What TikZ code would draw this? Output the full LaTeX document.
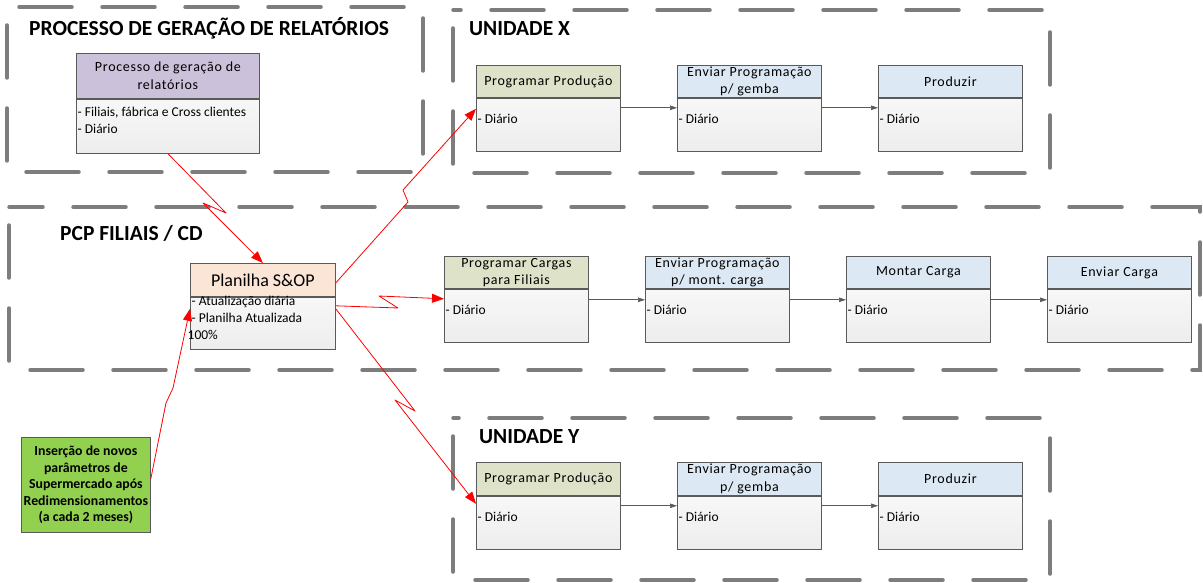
\documentclass[tikz,border=0pt]{standalone}
\usepackage{fontspec}
\setmainfont{Carlito}
\usepackage{tikz}
\usetikzlibrary{arrows.meta,positioning}
\definecolor{Moldura}{RGB}{125,125,125}
\definecolor{Borda}{RGB}{90,90,90}
\definecolor{Lilas}{RGB}{204,193,218}
\definecolor{Oliva}{RGB}{221,226,200}
\definecolor{AzulClaro}{RGB}{220,232,243}
\definecolor{Pessego}{RGB}{251,229,214}
\definecolor{VerdeCx}{RGB}{146,208,80}
\definecolor{Raio}{RGB}{255,0,0}

\begin{document}
\begin{tikzpicture}[x=1pt,y=-1pt,
  moldura/.style={draw=Moldura,line width=3.5pt,line cap=round,
                  dash pattern=on 53pt off 30pt,dash phase=65pt},
  titulo/.style={anchor=west,inner sep=0pt,font=\fontsize{21.5}{25}\selectfont\bfseries},
  cab/.style={draw=Borda,line width=0.8pt,anchor=north west,minimum width=144pt,
              minimum height=32pt,inner sep=0pt,align=center,
              font=\fontsize{14}{17.5}\selectfont\addfontfeature{LetterSpace=5}},
  corpo/.style={draw=Borda,line width=0.8pt,minimum width=144pt,minimum height=53pt,
                inner sep=0pt,top color=white!97!black,bottom color=black!7},
  diario/.style={label={[anchor=west,align=left,inner sep=1.5pt,yshift=5.5pt,
                 font=\fontsize{13.5}{17}\selectfont]west:#1}},
  verde/.style={draw=Borda,line width=0.8pt,fill=VerdeCx,anchor=north west,
                minimum width=129pt,minimum height=95pt,inner sep=0pt,align=center,
                font=\fontsize{13.8}{16.5}\selectfont\bfseries},
  seta/.style={-{Triangle[length=7pt,width=4.5pt]},draw=Borda,line width=0.7pt},
  raio/.style={-{Triangle[length=12pt,width=9pt]},color=Raio,line width=0.8pt,
               line join=round},
]
\useasboundingbox (0,0) rectangle (1203,583);

% molduras tracejadas
\draw[moldura] (7,7) rectangle (423,172);
\draw[moldura] (453,10) rectangle (1050,173);
\draw[moldura] (9,207) rectangle (1200,370);
\draw[moldura] (453,418) rectangle (1050,580);

\node[titulo] (tproc) at (29,28) {PROCESSO DE GERAÇÃO DE RELATÓRIOS};
\node[titulo] (tx) at (469,29) {UNIDADE X};
\node[titulo] (tpcp) at (60,233) {PCP FILIAIS / CD};
\node[titulo] (ty) at (479,437) {UNIDADE Y};

% processo de geracao
\node[cab,fill=Lilas,minimum width=183pt,minimum height=45pt] (proc) at (76,53)
  {Processo de geração de\\relatórios};
\node[corpo,minimum width=183pt,minimum height=54pt,below=0pt of proc,
  diario={- Filiais, fábrica e Cross clientes\\- Diário}] (procc) {};

% unidade X
\node[cab,fill=Oliva] (xprog) at (476,65) {Programar Produção};
\node[corpo,below=0pt of xprog,diario={- Diário}] (xprogc) {};
\node[cab,fill=AzulClaro] (xenv) at (677,65) {Enviar Programação\\p/ gemba};
\node[corpo,below=0pt of xenv,diario={- Diário}] (xenvc) {};
\node[cab,fill=AzulClaro] (xprod) at (878,65) {Produzir};
\node[corpo,below=0pt of xprod,diario={- Diário}] (xprodc) {};

% PCP filiais / CD
\node[cab,fill=Pessego,minimum width=145pt,minimum height=33pt,
  font=\fontsize{18}{20}\selectfont] (plan) at (190,263) {Planilha S\&OP};
\node[corpo,minimum width=145pt,minimum height=52pt,below=0pt of plan,
  diario={- Atualização diária\\- Planilha Atualizada\\\hspace*{-4pt}100\%}] (planc) {};
\node[cab,fill=Oliva] (carg) at (444,256) {Programar Cargas\\para Filiais};
\node[corpo,below=0pt of carg,diario={- Diário}] (cargc) {};
\node[cab,fill=AzulClaro] (penv) at (645,256) {Enviar Programação\\p/ mont. carga};
\node[corpo,below=0pt of penv,diario={- Diário}] (penvc) {};
\node[cab,fill=AzulClaro] (mont) at (846,256) {Montar Carga};
\node[corpo,below=0pt of mont,diario={- Diário}] (montc) {};
\node[cab,fill=AzulClaro] (envc) at (1047,256) {Enviar Carga};
\node[corpo,below=0pt of envc,diario={- Diário}] (envcc) {};

% unidade Y
\node[cab,fill=Oliva,minimum height=33pt] (yprog) at (476,462) {Programar Produção};
\node[corpo,below=0pt of yprog,diario={- Diário}] (yprogc) {};
\node[cab,fill=AzulClaro,minimum height=33pt] (yenv) at (677,462) {Enviar Programação\\p/ gemba};
\node[corpo,below=0pt of yenv,diario={- Diário}] (yenvc) {};
\node[cab,fill=AzulClaro,minimum height=33pt] (yprod) at (878,462) {Produzir};
\node[corpo,below=0pt of yprod,diario={- Diário}] (yprodc) {};

\node[verde] (ins) at (21,437)
  {Inserção de novos\\parâmetros de\\Supermercado após\\Redimensionamentos\\(a cada 2 meses)};

% fluxo
\draw[seta] ([yshift=-10pt]xprogc.north east) -- ([yshift=-10pt]xenvc.north west);
\draw[seta] ([yshift=-10pt]xenvc.north east) -- ([yshift=-10pt]xprodc.north west);
\draw[seta] ([yshift=-11pt]cargc.north east) -- ([yshift=-11pt]penvc.north west);
\draw[seta] ([yshift=-11pt]penvc.north east) -- ([yshift=-11pt]montc.north west);
\draw[seta] ([yshift=-11pt]montc.north east) -- ([yshift=-11pt]envcc.north west);
\draw[seta] ([yshift=-10pt]yprogc.north east) -- ([yshift=-10pt]yenvc.north west);
\draw[seta] ([yshift=-10pt]yenvc.north east) -- ([yshift=-10pt]yprodc.north west);

% raios
\draw[raio] (procc.south) -- (226,213) -- (203,203) -- (plan.north);
\draw[raio] ([yshift=-3pt]plan.east) -- (408,202) -- (403,190)
  -- ([yshift=-11pt]xprogc.north west);
\draw[raio] ([yshift=-9pt]planc.north east) -- (398,308) -- (379,296)
  -- ([yshift=-10pt]cargc.north west);
\draw[raio] ([yshift=-12pt]planc.north east) -- (415,411) -- (395,400)
  -- ([yshift=-8pt]yprogc.north west);
\draw[raio] ([yshift=6pt]ins.east) -- (166,403) -- (173,388)
  -- ([yshift=-12pt]planc.north west);
\end{tikzpicture}
\end{document}
